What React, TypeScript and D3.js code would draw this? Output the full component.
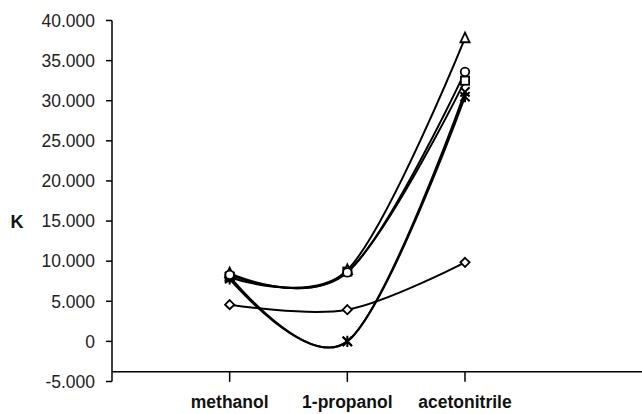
import React from "react";
import * as d3 from "d3";

// Solvent categories along the x axis (positions 1..3 on a 0..4.5 scale)
const solvents = ["methanol", "1-propanol", "acetonitrile"];
const yTicks = [-5000, 0, 5000, 10000, 15000, 20000, 25000, 30000, 35000, 40000];

// K values per series, in solvent order
const diamondK = [4580, 3950, 9850];
const squareK = [8000, 8700, 32500];
const triangleK = [8500, 8900, 37800];
const crossK = [8100, 0, 31100];
const starK = [7800, 0, 30500];
const circleK = [8300, 8600, 33600];

const xAxisCross = -3800;

const series = [
  { marker: "diamond", values: diamondK },
  { marker: "square", values: squareK },
  { marker: "triangle", values: triangleK },
  { marker: "cross", values: crossK },
  { marker: "star", values: starK },
  { marker: "circle", values: circleK },
];

const W = 642;
const H = 414;

const fmt = d3
  .formatLocale({ decimal: ",", thousands: ".", grouping: [3], currency: ["", ""], minus: "-" })
  .format(",");

function Marker({ type, cx, cy }: { type: string; cx: number; cy: number }) {
  const s = 4.6;
  const common = { stroke: "#000", strokeWidth: 1.8, fill: "#fff" };
  switch (type) {
    case "diamond":
      return <path d={`M${cx},${cy - s}L${cx + s},${cy}L${cx},${cy + s}L${cx - s},${cy}Z`} {...common} />;
    case "square":
      return <rect x={cx - s + 0.5} y={cy - s + 0.5} width={2 * s - 1} height={2 * s - 1} {...common} />;
    case "triangle":
      return <path d={`M${cx},${cy - s - 1}L${cx + s},${cy + s - 0.5}L${cx - s},${cy + s - 0.5}Z`} {...common} />;
    case "circle":
      return <circle cx={cx} cy={cy} r={s - 0.3} {...common} />;
    case "cross":
      return (
        <path
          d={`M${cx - s},${cy - s}L${cx + s},${cy + s}M${cx - s},${cy + s}L${cx + s},${cy - s}`}
          stroke="#000"
          strokeWidth={2}
          fill="none"
        />
      );
    case "star":
      return (
        <path
          d={`M${cx - s},${cy - s}L${cx + s},${cy + s}M${cx - s},${cy + s}L${cx + s},${cy - s}M${cx},${cy - s - 1}L${cx},${cy + s + 1}`}
          stroke="#000"
          strokeWidth={2}
          fill="none"
        />
      );
    default:
      return null;
  }
}

export default function App() {
  const x = d3.scaleLinear().domain([0, 4.5]).range([112, 641.5]);
  const y = d3.scaleLinear().domain([-5000, 40000]).range([381.5, 20.5]);

  const line = d3
    .line<number>()
    .x((_, i) => x(i + 1))
    .y((d) => y(d))
    .curve(d3.curveCardinal.tension(0));

  const axisY = y(xAxisCross);

  return (
    <svg
      width={W}
      height={H}
      style={{ position: "absolute", left: 0, top: 0, background: "#fff" }}
      fontFamily="'Liberation Sans', Arial, sans-serif"
    >
      <rect width={W} height={H} fill="#fff" />

      {/* y axis */}
      <line x1={x(0)} x2={x(0)} y1={y(40000)} y2={y(-5000)} stroke="#000" strokeWidth={1.5} />
      {yTicks.map((t) => (
        <g key={t}>
          <line x1={x(0) - 6} x2={x(0)} y1={y(t)} y2={y(t)} stroke="#000" strokeWidth={1.5} />
          <text x={x(0) - 17} y={y(t)} dy="0.36em" textAnchor="end" fontSize={17.5} fill="#222">
            {fmt(t)}
          </text>
        </g>
      ))}
      <text x={17} y={y(15000)} dy="0.36em" textAnchor="middle" fontSize={18} fontWeight="bold" fill="#111">
        K
      </text>

      {/* x axis */}
      <line x1={x(0)} x2={W} y1={axisY} y2={axisY} stroke="#000" strokeWidth={1.5} />
      {solvents.map((s, i) => (
        <g key={s}>
          <line x1={x(i + 1)} x2={x(i + 1)} y1={axisY} y2={axisY + 10} stroke="#000" strokeWidth={1.5} />
          <text x={x(i + 1)} y={408} textAnchor="middle" fontSize={17.5} fontWeight="bold" fill="#111">
            {s}
          </text>
        </g>
      ))}

      {/* series lines */}
      {series.map((s) => (
        <path key={s.marker} d={line(s.values) || ""} fill="none" stroke="#000" strokeWidth={2} />
      ))}
      {series.map((s) =>
        s.values.map((v, i) => <Marker key={s.marker + i} type={s.marker} cx={x(i + 1)} cy={y(v)} />)
      )}
    </svg>
  );
}
